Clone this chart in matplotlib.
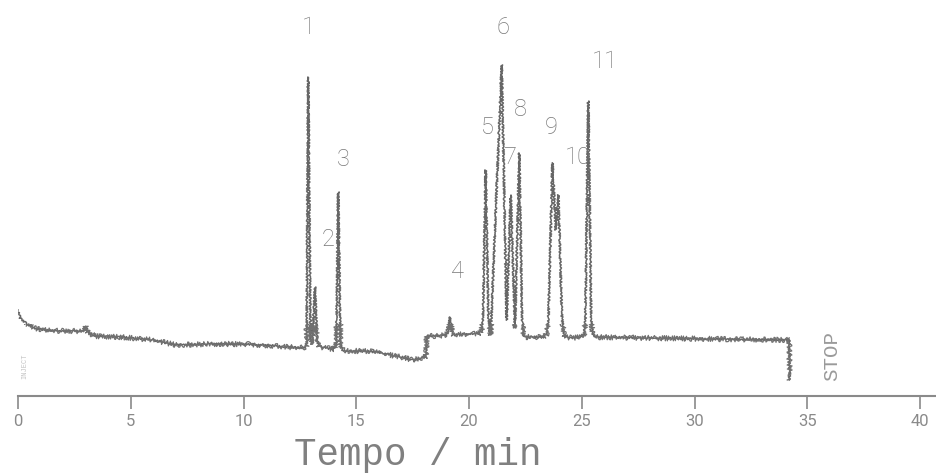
import matplotlib
matplotlib.use("Agg")
import matplotlib.pyplot as plt
from matplotlib.patches import Rectangle

## chromatogram trace (time in min, detector signal in a.u.)
t_min = [0.00, 0.10, 0.35, 0.70, 1.20, 2.00, 2.90, 3.00, 3.10, 3.40, 4.50, 6.00,
         7.00, 8.50, 10.00, 11.50, 12.50, 12.75, 12.80, 12.87, 12.97, 13.05,
         13.17, 13.26, 13.35, 13.60, 14.00, 14.12, 14.20, 14.30, 14.40, 14.60,
         15.50, 16.20, 16.70, 17.00, 17.50, 17.90, 18.10, 18.12, 18.50, 19.00,
         19.08, 19.16, 19.24, 19.32, 19.80, 20.40, 20.56, 20.62, 20.74, 20.86,
         20.96, 21.45, 21.67, 21.85, 22.04, 22.23, 22.35, 22.41, 22.50, 23.30,
         23.45, 23.52, 23.70, 23.85, 23.96, 24.12, 24.20, 24.30, 24.60, 25.00,
         25.10, 25.16, 25.29, 25.42, 25.50, 25.60, 28.00, 31.00, 34.20, 34.22]
signal = [86, 78, 73, 68, 66, 65, 65, 70, 64, 60, 59, 56,
          51, 52, 52, 50, 48, 49, 51, 319, 60, 52,
          109, 56, 50, 48, 47, 52, 204, 52, 46, 45,
          45, 43, 40, 39, 36, 38, 40, 60, 60, 61,
          65, 79, 65, 61, 62, 62, 65, 80, 226, 80,
          61, 331, 76, 201, 68, 243, 80, 61, 59, 59,
          62, 75, 233, 166, 201, 80, 62, 59, 58, 59,
          61, 75, 295, 75, 61, 59, 58, 57, 56, 16]

## peak numbers and where they are written
peak_labels = ["1", "2", "3", "4", "5", "6", "7", "8", "9", "10", "11"]
label_t = [12.86, 13.75, 14.41, 19.47, 20.80, 21.51, 21.82, 22.26, 23.64, 24.83, 26.03]
label_s = [368, 156, 236, 125, 269, 368, 239, 286, 269, 238, 334]

ticks = [0, 5, 10, 15, 20, 25, 30, 35, 40]

fig = plt.figure(figsize=(9.37, 4.75), dpi=100)
ax = fig.add_axes([18 / 937, 79 / 475, 919 / 937, 396 / 475])

## main trace, slightly rough like the plotter pen
line, = ax.plot(t_min, signal, color="#666666", lw=1.1)
line.set_sketch_params(scale=1.0, length=3, randomness=2)

## extra pen jitter on the baseline only
clip = Rectangle((0, 0), 40, 72, transform=ax.transData)
jit, = ax.plot(t_min, signal, color="#707070", lw=0.9)
jit.set_sketch_params(scale=2.6, length=1.2, randomness=2)
jit.set_clip_path(clip)

for lab, tx, sy in zip(peak_labels, label_t, label_s):
    ax.text(tx, sy, lab, ha="center", va="center", fontsize=17,
            color="#777777", family=["Roboto", "DejaVu Sans"], fontweight="light")

ax.text(36.1, 40, "STOP", rotation=90, ha="center", va="center",
        fontsize=15, color="#9a9a9a", family=["Liberation Mono", "DejaVu Sans Mono"])
ax.text(0.3, 30, "INJECT", rotation=90, ha="center", va="center",
        fontsize=5, color="#c4c4c4", family=["Liberation Mono", "DejaVu Sans Mono"])

ax.set_xlim(0, 919 / 22.55)
ax.set_ylim(0, 396)
for side in ["left", "right", "top"]:
    ax.spines[side].set_visible(False)
ax.spines["bottom"].set_color("#8a8a8a")
ax.spines["bottom"].set_linewidth(1.5)
ax.set_yticks([])
ax.set_xticks(ticks)
ax.set_xticklabels([str(v) for v in ticks], family=["Roboto", "DejaVu Sans"],
                   fontsize=12, color="#8a8a8a")
ax.tick_params(axis="x", direction="out", length=9, width=1.2, color="#8a8a8a", pad=4)
ax.patch.set_alpha(0)

fig.text(418 / 937, 1 - 455 / 475, "Tempo / min", ha="center", va="center",
         fontsize=27, color="#808080", family=["Liberation Mono", "DejaVu Sans Mono"])

fig.savefig("out.png", dpi=100)
